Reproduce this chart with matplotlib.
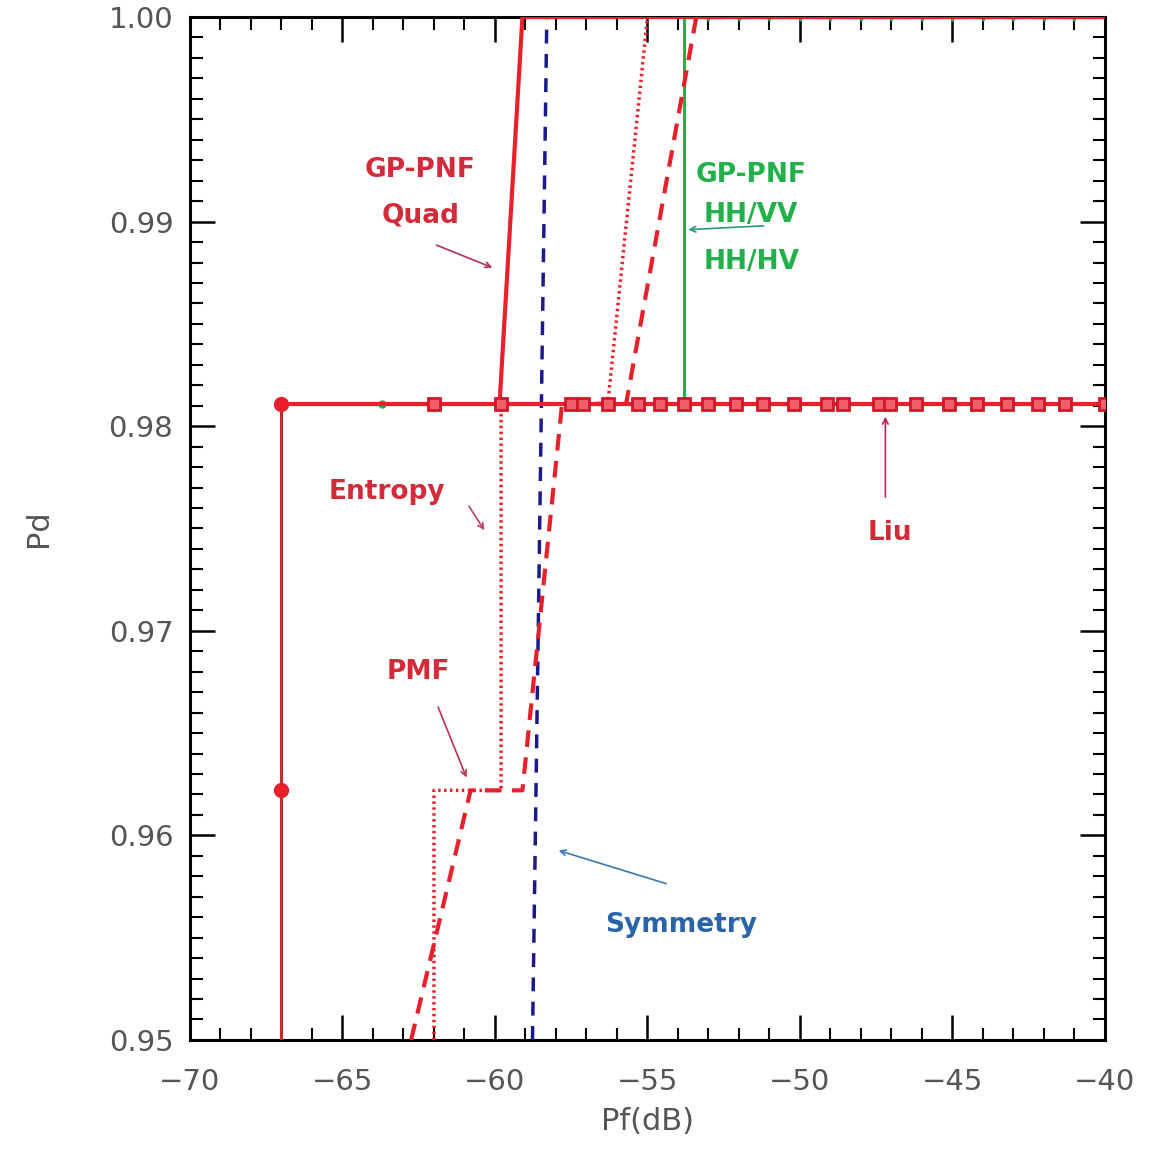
import matplotlib
matplotlib.use("Agg")
import matplotlib.pyplot as plt
from matplotlib.ticker import MultipleLocator

# ---- data ----
liu_x = [-67.0, -67.0, -67.0, -40.0]
liu_y = [0.95, 0.9622, 0.9811, 0.9811]
liu_sq_x = [-62.0, -59.8, -57.5, -57.1, -56.3, -55.3, -54.6, -53.8, -53.0, -52.1,
            -51.2, -50.2, -49.1, -48.6, -47.4, -47.05, -46.2, -45.1, -44.2, -43.2,
            -42.2, -41.3, -40.0]
liu_circ_x = [-67.0, -67.0]
liu_circ_y = [0.9622, 0.9811]

quad_x = [-59.85, -59.1, -40.0]
quad_y = [0.9811, 1.0, 1.0]

entropy_x = [-62.0, -62.0, -59.8, -59.8, -56.3, -55.0, -40.0]
entropy_y = [0.95, 0.9622, 0.9622, 0.9811, 0.9811, 1.0, 1.0]

pmf_x = [-62.75, -60.8, -59.1, -57.8, -55.7, -53.4, -40.0]
pmf_y = [0.95, 0.9622, 0.9622, 0.9811, 0.9811, 1.0, 1.0]

sym_x = [-58.77, -58.3]
sym_y = [0.95, 1.0]

green_x = [-67.0, -53.8, -53.8, -40.0]
green_y = [0.9811, 0.9811, 1.0, 1.0]
green_mk_x = [-63.7, -53.0, -52.0, -51.0, -50.0, -49.0, -48.0, -47.0, -46.0,
              -45.0, -44.0, -43.0, -42.0, -41.0]
green_mk_y_low = [0.9811]

x_ticks = [-70, -65, -60, -55, -50, -45, -40]
y_ticks = [0.95, 0.96, 0.97, 0.98, 0.99, 1.00]

RED = "#e8202c"
DARKRED = "#c42a30"
GREEN = "#22b04a"
NAVY = "#1a1a8c"

fig = plt.figure(figsize=(11.72, 11.5), dpi=100)
ax = fig.add_axes([0.1621, 0.0957, 0.7807, 0.8895])

# green (under the red)
ax.plot(green_x, green_y, color=GREEN, lw=2.2, zorder=2)
ax.plot(green_mk_x[:1], green_mk_y_low * 1, 'o', color=GREEN, ms=5, zorder=2)
ax.plot(green_mk_x[1:], [1.0] * (len(green_mk_x) - 1), 'v', color=GREEN, ms=6, zorder=2)

# symmetry
ax.plot(sym_x, sym_y, color=NAVY, lw=2.5, ls=(0, (4, 3)), zorder=3)

# PMF dashed
ax.plot(pmf_x, pmf_y, color=RED, lw=3.0, ls=(0, (4, 2.5)), zorder=4)
# Entropy dotted
ax.plot(entropy_x, entropy_y, color=RED, lw=2.5, ls=(0, (0.7, 1.0)), zorder=4)
# Quad solid
ax.plot(quad_x, quad_y, color=RED, lw=3.0, zorder=5)
# Liu
ax.plot(liu_x, liu_y, color=DARKRED, lw=2.2, zorder=5)
ax.plot([-67.0, -40.0], [0.9811, 0.9811], color=RED, lw=3.0, zorder=5)
ax.plot(liu_sq_x, [0.9811] * len(liu_sq_x), 's', mfc="#f0606a", mec="#d01828",
        mew=2.0, ms=8, zorder=6)
ax.plot(liu_circ_x, liu_circ_y, 'o', color=RED, ms=10, zorder=6)

ax.set_xlim(-70, -40)
ax.set_ylim(0.95, 1.0)
ax.set_xticks(x_ticks)
ax.set_yticks(y_ticks)
ax.set_xticklabels(["\u2212%d" % abs(v) for v in x_ticks])
ax.set_yticklabels(["%.2f" % v for v in y_ticks])
ax.xaxis.set_minor_locator(MultipleLocator(1))
ax.yaxis.set_minor_locator(MultipleLocator(0.001))
ax.tick_params(which="both", direction="in", top=True, right=True,
               labelsize=21, labelcolor="#555555")
ax.tick_params(axis="x", pad=20)
ax.tick_params(axis="y", pad=12)
ax.tick_params(which="major", length=18, width=1.8)
ax.tick_params(which="minor", length=9, width=1.5)
for s in ax.spines.values():
    s.set_linewidth(2.2)

ax.set_xlabel("Pf(dB)", fontsize=22, color="#555555", labelpad=8)
ax.set_ylabel("Pd", fontsize=22, color="#555555", labelpad=40)

bold = dict(fontsize=19, fontweight="bold", ha="center", va="center")
TXT_RED = "#d32b3a"
ax.text(-62.45, 0.99252, "GP-PNF", color=TXT_RED, **bold)
ax.text(-62.45, 0.99032, "Quad", color=TXT_RED, **bold)
ax.annotate("", xy=(-60.0, 0.9877), xytext=(-62.0, 0.9889),
            arrowprops=dict(arrowstyle="->", color="#b0305a", lw=1.2))

ax.text(-51.6, 0.99228, "GP-PNF", color=GREEN, **bold)
ax.text(-51.6, 0.99032, "HH/VV", color=GREEN, **bold)
ax.text(-51.6, 0.98802, "HH/HV", color=GREEN, **bold)
ax.annotate("", xy=(-53.75, 0.9896), xytext=(-51.1, 0.9898),
            arrowprops=dict(arrowstyle="->", color="#2a9a70", lw=1.2))

ax.text(-63.55, 0.97678, "Entropy", color=TXT_RED, **bold)
ax.annotate("", xy=(-60.3, 0.9748), xytext=(-60.9, 0.9762),
            arrowprops=dict(arrowstyle="->", color="#c04060", lw=1.2))

ax.text(-47.05, 0.97478, "Liu", color=TXT_RED, **bold)
ax.annotate("", xy=(-47.2, 0.9806), xytext=(-47.2, 0.9764),
            arrowprops=dict(arrowstyle="->", color="#c02050", lw=1.2))

ax.text(-62.5, 0.9680, "PMF", color=TXT_RED, **bold)
ax.annotate("", xy=(-60.9, 0.9627), xytext=(-61.9, 0.9664),
            arrowprops=dict(arrowstyle="->", color="#c03050", lw=1.2))

ax.text(-53.9, 0.95562, "Symmetry", color="#2a64a8", **bold)
ax.annotate("", xy=(-58.0, 0.9593), xytext=(-54.3, 0.9576),
            arrowprops=dict(arrowstyle="->", color="#3a7ab0", lw=1.2))

fig.savefig("out.png", dpi=100)
